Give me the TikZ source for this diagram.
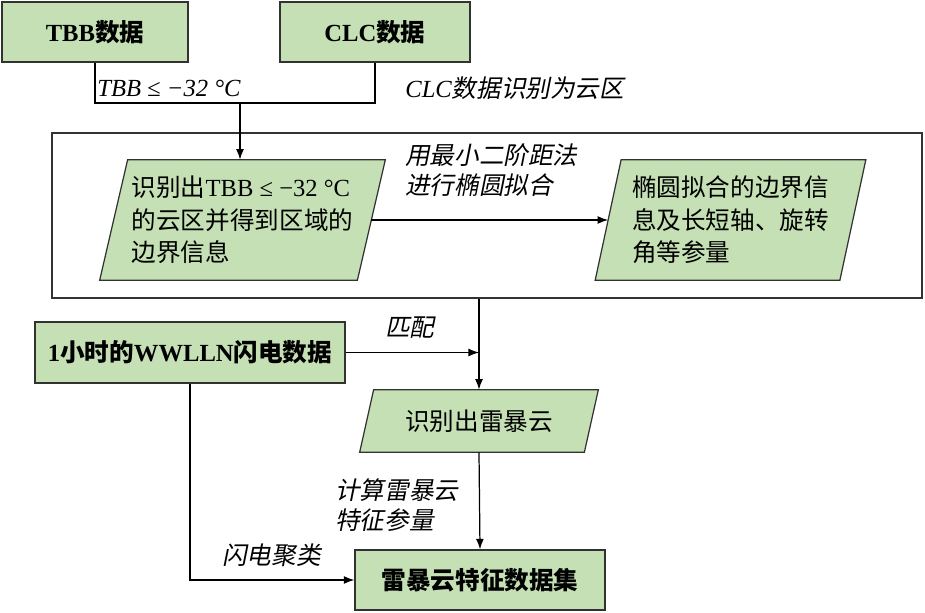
\documentclass[tikz,border=0pt]{standalone}
\usepackage{fontspec}
\setmainfont{Liberation Serif}
\newfontfamily\cjk{Noto Sans CJK SC}
\newfontfamily\cjkit{Noto Sans CJK SC}[FakeSlant=0.2]
\usetikzlibrary{arrows.meta,calc}
\pgfdeclarelayer{bg}\pgfsetlayers{bg,main}
\definecolor{boxgreen}{RGB}{197,224,180}
\definecolor{edge}{RGB}{50,50,50}
\tikzset{
 rbox/.style={draw=edge, fill=boxgreen, line width=0.7pt, inner sep=0pt, font=\fontsize{14}{18.5}\selectfont\bfseries},
 ptext/.style={inner sep=0pt, align=left, font=\fontsize{14}{18.5}\selectfont},
 para/.style={draw=edge, fill=boxgreen, line width=0.7pt},
 conn/.style={line width=0.7pt, draw=black},
 arr/.style={conn, -{Latex[length=6pt,width=4.5pt]}},
 lbl/.style={inner sep=0pt, anchor=west, align=left, font=\fontsize{14}{17}\selectfont\itshape},
}
\begin{document}
\begin{tikzpicture}[x=0.2mm,y=-0.2mm]
\useasboundingbox (0,0) rectangle (925,613);
% boxes
\node[rbox, minimum width=37.2mm, minimum height=12mm] (t) at (95,32) {TBB{\cjk 数据}};
\node[rbox, minimum width=38mm, minimum height=12mm] (c) at (375,32) {CLC{\cjk 数据}};
\node[draw=edge, line width=0.7pt, minimum width=174mm, minimum height=33mm, inner sep=0pt] (big) at (487,215.5) {};
\node[ptext, minimum width=51.4mm, minimum height=24mm] (p1) at (242.5,220) {{\cjk 识别出}TBB ≤ −32 °C\\{\cjk 的云区并得到区域的}\\{\cjk 边界信息}};
\node[ptext, minimum width=48.8mm, minimum height=24mm] (p2) at (730.5,220) {{\cjk 椭圆拟合的边界信}\\{\cjk 息及长短轴、旋转}\\{\cjk 角等参量}};
\node[rbox, minimum width=62mm, minimum height=12.2mm] (w) at (190,352.5) {1{\cjk 小时的}WWLLN{\cjk 闪电数据}};
\node[ptext, minimum width=44.8mm, minimum height=12.4mm] (p3) at (479,421) {{\cjk 识别出雷暴云}};
\node[rbox, minimum width=50mm, minimum height=12mm] (f) at (480,580) {{\cjk 雷暴云特征数据集}};
\begin{pgfonlayer}{bg}
\foreach \n/\s in {p1/14,p2/13,p3/7}
  \draw[para] ($(\n.north west)+(\s,0)$) -- ($(\n.north east)+(\s,0)$) -- ($(\n.south east)-(\s,0)$) -- ($(\n.south west)-(\s,0)$) -- cycle;
\end{pgfonlayer}
% connectors
\coordinate (j) at (240,103);
\draw[conn] (t.south) |- (j) -| (c.south);
\draw[arr] (j) -- (j |- p1.north);
\draw[arr] (p1.east) -- (p2.west);
\draw[arr] (p3.north |- big.south) -- (p3.north);
\draw[arr] (w.east) -- (w.east -| p3.north);
\draw[arr] (p3.south) -- (f.north);
\draw[arr] (w.south) |- (f.west);
% labels
\node[lbl] (l1) at (97,88) {TBB ≤ −32 °C};
\node[lbl] (l2) at (405,88) {CLC{\cjkit 数据识别为云区}};
\node[lbl] (l3) at (405,170) {{\cjkit 用最小二阶距法}\\{\cjkit 进行椭圆拟合}};
\node[lbl] (l4) at (385,328) {{\cjkit 匹配}};
\node[lbl] (l5) at (335,505) {{\cjkit 计算雷暴云}\\{\cjkit 特征参量}};
\node[lbl] (l6) at (222,555) {{\cjkit 闪电聚类}};
\end{tikzpicture}
\end{document}
